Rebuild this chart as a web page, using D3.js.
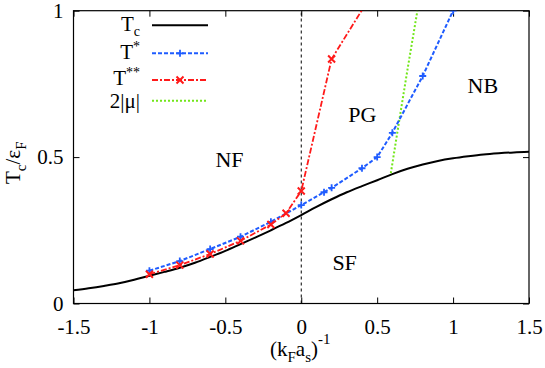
<!DOCTYPE html>
<html>
<head>
<meta charset="utf-8">
<script src="https://cdn.jsdelivr.net/npm/d3@7"></script>
<style>
body { margin: 0; background: #fff; }
text { font-family: "Liberation Serif", "Times New Roman", serif; fill: #000; }
</style>
</head>
<body>
<script>
// Tc curve
var tcX = [-1.5,-1.4,-1.3,-1.2,-1.1,-1.0,-0.9,-0.8,-0.7,-0.6,-0.5,-0.4,-0.3,-0.2,-0.1,0,0.1,0.2,0.3,0.4,0.5,0.6,0.7,0.8,0.9,1.0,1.1,1.2,1.3,1.4,1.5];
var tcY = [0.045,0.052,0.060,0.069,0.081,0.095,0.108,0.122,0.139,0.159,0.180,0.203,0.226,0.250,0.275,0.302,0.330,0.356,0.380,0.401,0.421,0.442,0.460,0.475,0.487,0.496,0.503,0.509,0.513,0.516,0.518];
// T*
var tsX = [-1,-0.8,-0.6,-0.4,-0.2,0,0.15,0.2,0.4,0.5,0.6,0.8,1.0];
var tsY = [0.112,0.145,0.186,0.228,0.279,0.336,0.38,0.395,0.462,0.50,0.583,0.777,1.0];
// T**
var tssX = [-1,-0.8,-0.6,-0.4,-0.2,-0.1,0,0.2,0.6];
var tssY = [0.10,0.131,0.169,0.214,0.27,0.308,0.384,0.835,1.17];
// 2|mu|
var muX = [0.59,0.65,0.70,0.765];
var muY = [0.445,0.64,0.80,1.0];

var xTicks = [-1.5,-1,-0.5,0,0.5,1,1.5];
var yTicks = [0,0.5,1];

var W = 545, H = 368;
var L = 73.5, R = 529, T = 10.7, B = 303.5;

var svg = d3.select("body").append("svg").attr("width", W).attr("height", H);

var x = d3.scaleLinear().domain([-1.5,1.5]).range([L,R]);
var y = d3.scaleLinear().domain([0,1]).range([B,T]);

svg.append("clipPath").attr("id","clip")
  .append("rect").attr("x",L).attr("y",T).attr("width",R-L).attr("height",B-T);

// axes, ticks inward on all sides
var fmt = function(d){ return String(d); };
var gx = svg.append("g").attr("transform","translate(0,"+B+")")
  .call(d3.axisBottom(x).tickValues(xTicks).tickFormat(fmt).tickSizeInner(-6).tickSizeOuter(0).tickPadding(16));
var gxt = svg.append("g").attr("transform","translate(0,"+T+")")
  .call(d3.axisTop(x).tickValues(xTicks).tickFormat("").tickSizeInner(-6).tickSizeOuter(0));
var gy = svg.append("g").attr("transform","translate("+L+",0)")
  .call(d3.axisLeft(y).tickValues(yTicks).tickFormat(fmt).tickSizeInner(-6).tickSizeOuter(0).tickPadding(10));
var gyr = svg.append("g").attr("transform","translate("+R+",0)")
  .call(d3.axisRight(y).tickValues(yTicks).tickFormat("").tickSizeInner(-6).tickSizeOuter(0));
svg.selectAll(".domain").remove();
svg.selectAll("g").attr("font-family", null).attr("font-size", null);
svg.selectAll(".tick text")
  .attr("font-family","Liberation Serif")
  .style("font-family","'Liberation Serif', serif")
  .style("font-size","21px");
svg.selectAll(".tick line").attr("stroke","#000");

svg.append("rect").attr("x",L).attr("y",T).attr("width",R-L).attr("height",B-T)
  .attr("fill","none").attr("stroke","#000").attr("stroke-width",1.2);

// vertical dashed line at 0
svg.append("line").attr("x1",x(0)).attr("x2",x(0)).attr("y1",y(0)).attr("y2",y(1))
  .attr("stroke","#000").attr("stroke-width",1).attr("stroke-dasharray","3,3");

var plot = svg.append("g").attr("clip-path","url(#clip)");

function pts(xs, ys){ return xs.map(function(v,i){ return [v, ys[i]]; }); }
var line = d3.line().x(function(d){ return x(d[0]); }).y(function(d){ return y(d[1]); });

var blue = "#1f5cff", red = "#ff1a1a", green = "#72e61a";

plot.append("path").attr("d", line.curve(d3.curveMonotoneX)(pts(tcX,tcY)))
  .attr("fill","none").attr("stroke","#000").attr("stroke-width",2);
line.curve(d3.curveLinear);
plot.append("path").attr("d", line(pts(muX,muY)))
  .attr("fill","none").attr("stroke",green).attr("stroke-width",2).attr("stroke-dasharray","2,2");
plot.append("path").attr("d", line(pts(tsX,tsY)))
  .attr("fill","none").attr("stroke",blue).attr("stroke-width",2).attr("stroke-dasharray","4,2");
plot.append("path").attr("d", line(pts(tssX,tssY)))
  .attr("fill","none").attr("stroke",red).attr("stroke-width",1.8).attr("stroke-dasharray","6,2,2,2");

function plus(g, cx, cy, c){
  g.append("path").attr("d","M"+(cx-3.5)+","+cy+"h7M"+cx+","+(cy-3.5)+"v7")
    .attr("stroke",c).attr("stroke-width",1.8);
}
function cross(g, cx, cy, c){
  g.append("path").attr("d","M"+(cx-3.5)+","+(cy-3.5)+"l7,7M"+(cx-3.5)+","+(cy+3.5)+"l7,-7")
    .attr("stroke",c).attr("stroke-width",2);
}
pts(tsX,tsY).forEach(function(d){ plus(plot, x(d[0]), y(d[1]), blue); });
pts(tssX,tssY).forEach(function(d){ cross(plot, x(d[0]), y(d[1]), red); });

// region labels
var regions = [["NF",-0.565,0.465],["PG",0.31,0.62],["NB",1.095,0.72],["SF",0.205,0.115]];
regions.forEach(function(r){
  svg.append("text").attr("x",x(r[1])).attr("y",y(r[2])).style("font-size","22px").text(r[0]);
});

// legend
var leg = svg.append("g");
var lx1 = 152, lx2 = 208, tx = 140;
function legText(yb, main, sub, sup){
  var t = leg.append("text").attr("x",tx).attr("y",yb).attr("text-anchor","end").style("font-size","21px");
  t.append("tspan").text(main);
  if (sub) t.append("tspan").attr("dy",5).style("font-size","14px").text(sub);
  if (sup) t.append("tspan").attr("dy",-8).style("font-size","14px").text(sup);
}
legText(31, "T", "c", null);
leg.append("line").attr("x1",lx1).attr("x2",lx2).attr("y1",25.3).attr("y2",25.3).attr("stroke","#000").attr("stroke-width",2);
legText(59, "T", null, "*");
leg.append("line").attr("x1",lx1).attr("x2",lx2).attr("y1",53.3).attr("y2",53.3).attr("stroke",blue).attr("stroke-width",2).attr("stroke-dasharray","4,2");
plus(leg, 180, 53.3, blue);
legText(85, "T", null, "**");
leg.append("line").attr("x1",lx1).attr("x2",lx2).attr("y1",80).attr("y2",80).attr("stroke",red).attr("stroke-width",1.8).attr("stroke-dasharray","6,2,2,2");
cross(leg, 180, 80, red);
legText(108, "2|\u03bc|", null, null);
leg.append("line").attr("x1",lx1).attr("x2",lx2).attr("y1",100.7).attr("y2",100.7).attr("stroke",green).attr("stroke-width",2).attr("stroke-dasharray","2,2");

// axis titles
var xl = svg.append("text").attr("x",270).attr("y",356).style("font-size","21px");
xl.append("tspan").text("(k");
xl.append("tspan").attr("dy",6).style("font-size","15px").text("F");
xl.append("tspan").attr("dy",-6).text("a");
xl.append("tspan").attr("dy",6).style("font-size","15px").text("s");
xl.append("tspan").attr("dy",-6).text(")");
xl.append("tspan").attr("dy",-12).style("font-size","15px").text("-1");

var yl = svg.append("text").attr("transform","translate(20,184) rotate(-90)").style("font-size","21px");
yl.append("tspan").text("T");
yl.append("tspan").attr("dy",6).style("font-size","15px").text("c");
yl.append("tspan").attr("dy",-6).text("/\u03b5");
yl.append("tspan").attr("dy",6).style("font-size","15px").text("F");
</script>
</body>
</html>
